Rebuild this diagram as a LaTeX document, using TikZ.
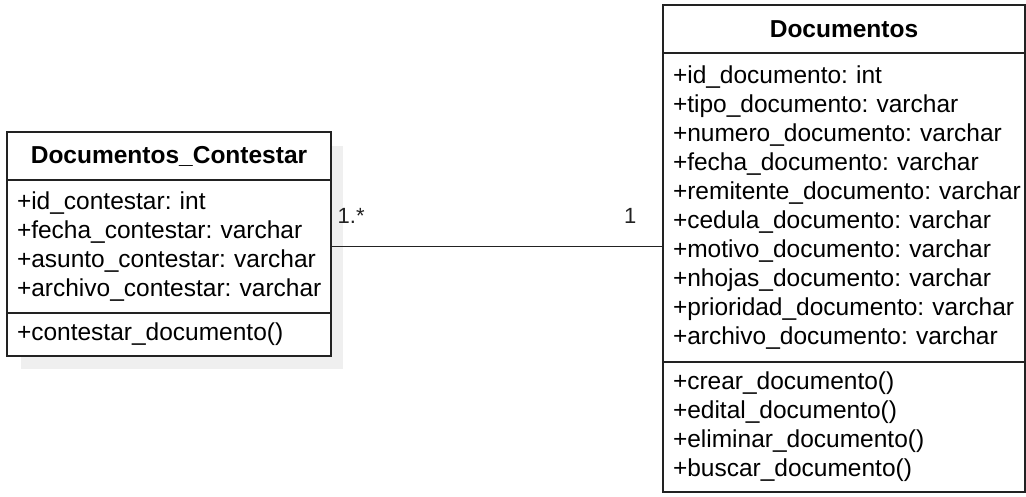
\documentclass[tikz,border=0pt]{standalone}
\usepackage{fontspec}
\setmainfont{Liberation Sans}
\usetikzlibrary{shapes,arrows,positioning,calc,backgrounds}

\definecolor{umlline}{HTML}{222222}
\definecolor{shadowgray}{HTML}{EFEFEF}
\hyphenpenalty=10000
\frenchspacing

\begin{document}
\begin{tikzpicture}[x=1pt, y=1pt,
  umltitle/.style={draw=umlline, line width=1.4pt, rectangle, fill=white, outer sep=0pt, minimum height=48pt, font=\fontsize{24.5}{29}\selectfont\bfseries},
  umlbody/.style={draw=umlline, line width=1.4pt, rectangle, fill=white, outer sep=0pt, inner xsep=10pt, inner ysep=4pt, align=left, font=\fontsize{24.5}{29}\selectfont},
  mult/.style={inner sep=0pt, font=\fontsize{22}{26}\selectfont}]
\useasboundingbox (0,0) rectangle (1026,-496);

% Documentos_Contestar
\node[umltitle, minimum width=324pt] (contestar) at (169,-156) {Documentos\_Contestar};
\node[umlbody, text width=304pt, minimum height=133pt, below=0pt of contestar] (contestarattr)
  {+id\_contestar:~int\\+fecha\_contestar:~varchar\\+asunto\_contestar:~varchar\\+archivo\_contestar:~varchar};
\node[umlbody, text width=304pt, minimum height=43pt, below=0pt of contestarattr] (contestarops)
  {+contestar\_documento()};

% Documentos
\node[umltitle, minimum width=362pt] (documentos) at (844,-29) {Documentos};
\node[umlbody, text width=342pt, minimum height=309pt, below=0pt of documentos] (docattr)
  {+id\_documento:~int\\+tipo\_documento:~varchar\\+numero\_documento:~varchar\\+fecha\_documento:~varchar\\
   +remitente\_documento:~varchar\\+cedula\_documento:~varchar\\+motivo\_documento:~varchar\\
   +nhojas\_documento:~varchar\\+prioridad\_documento:~varchar\\+archivo\_documento:~varchar};
\node[umlbody, text width=342pt, minimum height=130pt, below=0pt of docattr] (docops)
  {+crear\_documento()\\+edital\_documento()\\+eliminar\_documento()\\+buscar\_documento()};

% sombra
\begin{scope}[on background layer]
\fill[shadowgray] ($(contestar.north west)+(14,-14)$) rectangle ($(contestarops.south east)+(12,-13)$);
\end{scope}

% asociacion
\draw[umlline, line width=1.4pt] (contestarattr.east) -- (contestarattr.east -| docattr.west)
  node[mult, pos=0, above right=22pt and 6pt] (multmany) {1.*}
  node[mult, pos=1, above left=22pt and 26pt] (multone) {1};
\end{tikzpicture}
\end{document}
